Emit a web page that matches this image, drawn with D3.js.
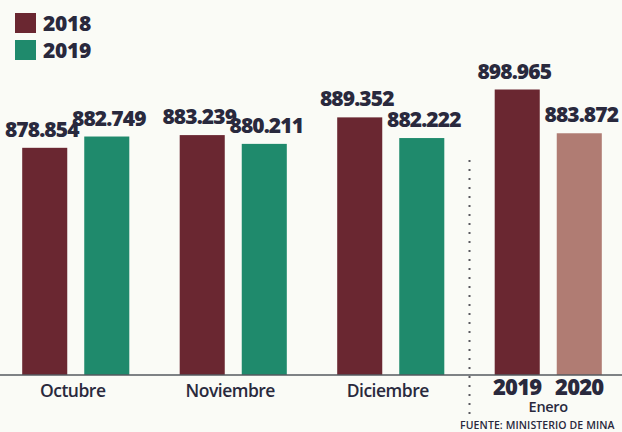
<html>
<head>
<style>
  body { margin: 0; background: #fafbf6; }
  text { font-family: "Open Sans", sans-serif; fill: #29293d; }
</style>
</head>
<body>
<svg id="container" width="622" height="432"></svg>
<script src="https://cdn.jsdelivr.net/npm/d3@7"></script>
<script>
  // data
  const months = ["Octubre", "Noviembre", "Diciembre", "Enero"]
  const firstValues = [878854, 883239, 889352, 898965]
  const secondValues = [882749, 880211, 882222, 883872]
  const legendLabels = ["2018", "2019"]
  const eneroYears = ["2019", "2020"]
  const source = "FUENTE: MINISTERIO DE MINA"

  let svg = d3.select("#container")
  svg.append("rect").attr("width", 622).attr("height", 432).attr("fill", "#fafbf6")

  let colors = { first: "#6a2731", second: "#1f8a6c", last: "#b07c73" }
  let fmt = d3.formatLocale({ decimal: ",", thousands: ".", grouping: [3], currency: ["", ""] }).format(",")

  let baseline = 375
  let x0 = d3.scaleBand().domain(months).range([-3, 627]).paddingInner(0.32).paddingOuter(0.16)
  let x1 = d3.scaleBand().domain(["first", "second"]).range([0, x0.bandwidth()]).paddingInner(0.274)
  let y = d3.scaleLinear().domain([800500, 900000]).range([baseline, 86.5])

  let bars = []
  months.forEach((m, i) => {
    bars.push({ month: m, key: "first", value: firstValues[i], color: colors.first })
    bars.push({ month: m, key: "second", value: secondValues[i], color: m == "Enero" ? colors.last : colors.second })
  })

  let g = svg.selectAll(".bar")
    .data(bars)
    .enter()
    .append("g")
    .attr("class", "bar")
    .attr("transform", d => "translate(" + (x0(d.month) + x1(d.key)) + ",0)")

  g.append("rect")
    .attr("y", d => y(d.value))
    .attr("width", x1.bandwidth())
    .attr("height", d => baseline - y(d.value))
    .attr("fill", d => d.color)

  // value labels above the bars, first one nudged left, second right
  g.append("text")
    .text(d => fmt(d.value))
    .attr("x", d => x1.bandwidth() / 2 + (d.key == "first" ? -3 : 2))
    .attr("y", d => y(d.value) - 11)
    .attr("text-anchor", "middle")
    .style("font-size", "21px")
    .style("font-weight", 800)
    .style("letter-spacing", "-0.9px")

  // baseline
  svg.append("line")
    .attr("x1", 0).attr("x2", 622)
    .attr("y1", baseline).attr("y2", baseline)
    .attr("stroke", "#555a5f").attr("stroke-width", 1.5)

  // dotted separator before Enero
  let sepX = (x0("Diciembre") + x0.bandwidth() + x0("Enero")) / 2
  svg.append("line")
    .attr("x1", sepX).attr("x2", sepX)
    .attr("y1", 160).attr("y2", 416)
    .attr("stroke", "#5a5a60").attr("stroke-width", 2)
    .attr("stroke-dasharray", "2,7")

  // month labels
  svg.selectAll(".month")
    .data(months.slice(0, 3))
    .enter()
    .append("text")
    .text(d => d)
    .attr("x", d => x0(d) + x0.bandwidth() / 2 - 3)
    .attr("y", 397)
    .attr("text-anchor", "middle")
    .style("font-size", "17.5px")
    .style("font-weight", 600)
    .style("letter-spacing", "-0.5px")

  svg.selectAll(".year")
    .data(eneroYears)
    .enter()
    .append("text")
    .text(d => d)
    .attr("x", (d, i) => x0("Enero") + x1(i == 0 ? "first" : "second") + x1.bandwidth() / 2)
    .attr("y", 395)
    .attr("text-anchor", "middle")
    .style("font-size", "22px")
    .style("font-weight", 800)
    .style("letter-spacing", "-0.8px")

  svg.append("text")
    .text("Enero")
    .attr("x", x0("Enero") + x0.bandwidth() / 2)
    .attr("y", 412)
    .attr("text-anchor", "middle")
    .style("font-size", "14.5px")
    .style("font-weight", 600)
    .style("letter-spacing", "-0.3px")

  svg.append("text")
    .text(source)
    .attr("x", 460)
    .attr("y", 429)
    .style("font-size", "10.5px")
    .style("font-weight", 600)
    .style("letter-spacing", "0.1px")

  // legend
  let legendG = svg.selectAll(".legend")
    .data(legendLabels)
    .enter()
    .append("g")
    .attr("class", "legend")
    .attr("transform", (d, i) => "translate(15," + (13 + i * 27) + ")")

  legendG.append("rect")
    .attr("width", 21)
    .attr("height", 20)
    .attr("fill", (d, i) => i == 0 ? colors.first : colors.second)

  legendG.append("text")
    .text(d => d)
    .attr("x", 28)
    .attr("y", 18)
    .style("font-size", "21px")
    .style("font-weight", 800)
    .style("letter-spacing", "-0.3px")
</script>
</body>
</html>
